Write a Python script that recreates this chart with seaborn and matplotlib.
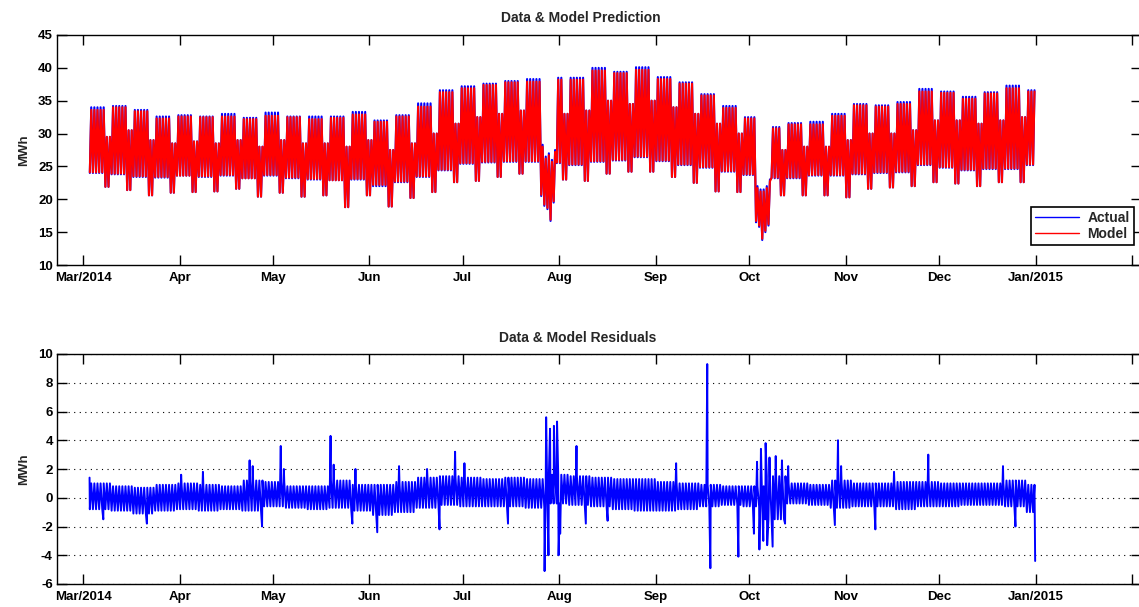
import numpy as np
import pandas as pd
import matplotlib
matplotlib.use('Agg')
import matplotlib.pyplot as plt
import matplotlib.dates as mdates
import seaborn as sns

# ---- weekly readings (weeks start Monday 2014-03-03) ----
peak_wd = [34.0, 34.2, 33.6, 32.6, 32.8, 32.6, 33.0, 32.4, 33.2, 32.6, 32.6, 32.6, 33.3, 32.0, 32.8,
           34.6, 36.6, 37.2, 37.6, 38.0, 38.3, 38.5, 38.5, 40.0, 39.4, 40.1, 38.6, 37.8, 36.0, 34.2,
           32.5, 31.0, 31.6, 31.8, 33.0, 34.5, 34.3, 34.8, 36.8, 36.4, 35.6, 36.3, 37.3, 36.6]
peak_we = [29.5, 30.5, 29.0, 28.5, 28.8, 28.5, 29.0, 28.0, 29.0, 28.5, 28.5, 28.0, 29.0, 27.5, 28.5,
           30.0, 31.5, 32.5, 33.0, 33.5, 33.5, 33.0, 33.5, 35.0, 34.5, 35.0, 34.0, 33.0, 31.5, 30.0,
           28.5, 27.5, 28.0, 28.0, 29.0, 30.0, 30.0, 30.5, 32.0, 32.0, 31.5, 32.0, 32.5, 32.0]
trough_wd = [24.0, 23.8, 23.4, 23.3, 23.6, 23.4, 23.6, 23.2, 23.6, 23.2, 23.0, 22.9, 23.0, 22.0, 22.6,
             23.4, 24.4, 25.4, 25.6, 25.7, 25.7, 25.5, 25.2, 25.7, 25.9, 26.4, 25.8, 25.2, 24.8, 24.2,
             23.7, 23.2, 23.2, 23.6, 23.6, 23.8, 24.0, 24.1, 25.2, 24.8, 24.4, 24.6, 24.6, 25.2]
trough_we = [21.9, 21.4, 20.6, 21.0, 21.1, 21.2, 21.6, 20.4, 21.0, 20.4, 20.6, 18.8, 20.6, 18.9, 20.2,
             21.1, 22.6, 22.8, 23.4, 23.9, 23.5, 23.0, 22.8, 23.9, 24.2, 24.2, 23.4, 22.5, 21.2, 21.1,
             21.7, 20.6, 20.6, 20.6, 20.3, 21.6, 21.8, 22.0, 22.6, 22.4, 22.0, 22.6, 22.6, 23.4]
model_peak_wd = [33.6, 34.0, 33.4, 32.3, 32.6, 32.5, 32.6, 32.2, 32.7, 32.5, 32.2, 32.4, 32.9, 31.8, 32.6,
                 34.1, 36.3, 36.9, 37.4, 37.8, 37.9, 38.2, 38.2, 39.6, 39.2, 39.7, 38.3, 37.6, 35.8, 33.9,
                 32.3, 30.8, 31.4, 31.4, 32.7, 34.3, 34.1, 34.5, 36.4, 36.2, 35.3, 36.1, 36.9, 36.4]
model_trough_wd = [24.1, 23.9, 23.5, 23.4, 23.6, 23.5, 23.7, 23.2, 23.7, 23.3, 23.1, 22.9, 23.1, 22.2, 22.7,
                   23.5, 24.5, 25.5, 25.7, 25.8, 25.8, 25.6, 25.3, 25.8, 26.0, 26.5, 25.9, 25.3, 24.9, 24.3,
                   23.8, 23.3, 23.3, 23.7, 23.7, 23.9, 24.1, 24.2, 25.3, 24.9, 24.5, 24.7, 24.7, 25.3]

# days that fall out of the weekly pattern (peak, trough)
odd_days = ['2014-07-26', '2014-07-27', '2014-07-28', '2014-07-29', '2014-07-30',
            '2014-10-03', '2014-10-04', '2014-10-05', '2014-10-06', '2014-10-07']
odd_peak = [28.3, 26.5, 27.0, 26.0, 27.5, 22.0, 21.5, 21.5, 22.0, 23.0]
odd_trough = [20.5, 19.0, 18.5, 16.7, 19.5, 16.5, 15.8, 13.8, 15.0, 16.0]

# residual band per week
res_hi = [1.0, 0.8, 0.7, 0.9, 1.0, 0.9, 0.8, 1.2, 1.1, 0.8, 0.8, 1.2, 0.9,
          0.9, 1.1, 1.4, 1.5, 1.4, 1.3, 1.4, 1.3, 1.6, 1.5, 1.4, 1.3, 1.3, 1.1, 1.0, 0.9, 0.8, 0.8,
          1.5, 1.0, 0.9, 1.2, 1.0, 1.0, 1.1, 1.1, 1.0, 1.0, 1.0, 1.2, 0.9]
res_lo = [-0.8, -0.9, -1.1, -0.9, -0.8, -0.9, -0.8, -0.9, -0.6, -0.7, -0.8, -0.7, -0.9,
          -1.2, -1.0, -0.7, -0.5, -0.6, -0.6, -0.6, -0.7, -0.4, -0.5, -0.6, -0.8, -0.9, -0.9, -0.8, -0.6, -0.5, -0.6,
          -1.5, -0.4, -0.5, -0.7, -0.6, -0.6, -0.8, -0.6, -0.6, -0.5, -0.5, -0.6, -1.0]
spike_time = ['2014-03-03 02:00', '2014-03-07 12:00', '2014-03-21 12:00', '2014-04-01 12:00',
              '2014-04-08 12:00', '2014-04-23 12:00', '2014-04-24 12:00', '2014-04-27 12:00',
              '2014-05-03 12:00', '2014-05-04 12:00', '2014-05-19 12:00', '2014-05-20 12:00',
              '2014-05-26 12:00', '2014-05-27 12:00', '2014-06-03 12:00', '2014-06-10 12:00',
              '2014-06-19 12:00', '2014-06-23 12:00', '2014-06-28 12:00', '2014-07-01 12:00',
              '2014-07-15 12:00', '2014-07-27 06:00', '2014-07-27 18:00', '2014-07-28 12:00',
              '2014-07-29 00:00', '2014-07-30 06:00', '2014-07-31 06:00', '2014-07-31 18:00',
              '2014-08-01 06:00', '2014-08-06 12:00', '2014-08-09 12:00', '2014-08-16 12:00',
              '2014-09-07 12:00', '2014-09-17 12:00', '2014-09-18 12:00', '2014-09-27 12:00',
              '2014-10-02 12:00', '2014-10-03 12:00', '2014-10-04 06:00', '2014-10-04 18:00',
              '2014-10-05 12:00', '2014-10-06 06:00', '2014-10-06 18:00', '2014-10-07 12:00',
              '2014-10-08 12:00', '2014-10-09 12:00', '2014-10-11 12:00', '2014-10-12 12:00',
              '2014-10-13 12:00', '2014-10-28 12:00', '2014-10-29 12:00', '2014-10-30 12:00',
              '2014-11-10 12:00', '2014-11-16 12:00', '2014-11-27 12:00', '2014-12-21 12:00',
              '2014-12-25 12:00', '2014-12-31 20:00']
spike_val = [1.4, -1.5, -1.8, 1.6, 1.8, 2.6, 2.2, -2.0, 3.6, 2.0, 4.3, 2.3, -1.8, 2.0, -2.4, 2.2,
             2.0, -2.2, 3.2, 2.4, -1.8, -5.1, 5.6, -4.0, 4.8, 5.0, 5.3, -4.0, -2.5, 3.6, -1.8, -1.6,
             2.4, 9.3, -4.9, -4.1, -2.5, 2.5, -3.6, 3.4, -3.0, 3.8, -3.3, 2.8, -3.4, 2.9, 2.6, -1.8,
             2.2, -1.9, 4.0, 2.2, -2.2, 1.8, 3.0, 2.2, -2.0, -4.4]

month_ticks = pd.date_range('2014-03-01', '2015-02-01', freq='MS')
month_labels = ['Mar/2014', 'Apr', 'May', 'Jun', 'Jul', 'Aug', 'Sep', 'Oct', 'Nov', 'Dec', 'Jan/2015', '']

# ---- build the series ----
days = pd.date_range('2014-03-03', '2014-12-31', freq='D')
rows, res_rows = [], []
odd = {pd.Timestamp(d): (p, t) for d, p, t in zip(odd_days, odd_peak, odd_trough)}
for d in days:
    w = (d - days[0]).days // 7
    we = d.dayofweek >= 5
    a_pk = peak_we[w] if we else peak_wd[w]
    a_tr = trough_we[w] if we else trough_wd[w]
    m_pk = peak_we[w] if we else model_peak_wd[w]
    m_tr = trough_we[w] if we else model_trough_wd[w]
    if d in odd:
        a_pk, a_tr = odd[d]
        m_pk, m_tr = odd[d][0] - 0.3, odd[d][1] + 0.2
    t_lo, t_hi = d + pd.Timedelta(hours=4), d + pd.Timedelta(hours=15)
    rows += [(t_lo, a_tr, 'Actual'), (t_hi, a_pk, 'Actual'),
             (t_lo, m_tr, 'Model'), (t_hi, m_pk, 'Model')]
    res_rows += [(t_lo, res_lo[w]), (t_hi, res_hi[w])]

pred = pd.DataFrame(rows, columns=['time', 'MWh', 'series'])
res = pd.DataFrame(res_rows + list(zip(pd.to_datetime(spike_time), spike_val)),
                   columns=['time', 'MWh']).sort_values('time')

# ---- figure ----
sns.set_style('ticks')
plt.rcParams['font.family'] = ['Liberation Sans', 'DejaVu Sans']
plt.rcParams['font.weight'] = 'bold'
plt.rcParams['axes.unicode_minus'] = False

fig = plt.figure(figsize=(11.39, 6.07), dpi=100)
W, H = 1139, 607
left, right = 57, 1141
ax1 = fig.add_axes([left / W, (H - 265) / H, (right - left) / W, 230 / H])
ax2 = fig.add_axes([left / W, (H - 584) / H, (right - left) / W, 230 / H])

sns.lineplot(data=pred, x='time', y='MWh', hue='series', hue_order=['Actual', 'Model'],
             palette={'Actual': 'blue', 'Model': 'red'}, estimator=None, lw=1.5, ax=ax1)
sns.lineplot(data=res, x='time', y='MWh', color='blue', estimator=None, sort=False, lw=1.4, ax=ax2)

x0 = mdates.date2num(pd.Timestamp('2014-02-20 15:00'))
x1 = mdates.date2num(pd.Timestamp('2015-02-03 20:00'))
for ax in (ax1, ax2):
    ax.set_xlim(x0, x1)
    ax.set_xticks(mdates.date2num(month_ticks))
    ax.set_xticklabels(month_labels)
    ax.tick_params(direction='in', length=7, width=1, top=True, right=True,
                   labelsize=9.5, pad=5, colors='black')
    ax.tick_params(axis='y', pad=3)
    for s in ax.spines.values():
        s.set_linewidth(1.0)
        s.set_color('black')
    ax.set_xlabel('')
    ax.set_ylabel('MWh', fontsize=9.5, fontweight='bold', labelpad=6)
    for lab in ax.get_xticklabels() + ax.get_yticklabels():
        lab.set_fontweight('bold')

ax1.set_ylim(10, 45)
ax1.set_yticks(np.arange(10, 46, 5))
ax1.set_title('Data & Model Prediction', fontsize=10, fontweight='bold', x=0.4834, pad=9)
h, l = ax1.get_legend_handles_labels()
leg = ax1.legend(h, l, loc='upper right', bbox_to_anchor=(0.9935, 0.252), borderaxespad=0,
                 fancybox=False, edgecolor='black', framealpha=1, fontsize=10,
                 handlelength=3.2, handletextpad=0.6, borderpad=0.3, labelspacing=0.15)
leg.get_frame().set_linewidth(1.2)
for line in leg.get_lines():
    line.set_linewidth(1.0)
for t in leg.get_texts():
    t.set_fontweight('bold')

ax2.set_ylim(-6, 10)
ax2.set_yticks(np.arange(-6, 11, 2))
ax2.grid(axis='y', color='black', linestyle=(0, (1, 4)), linewidth=0.8)
ax2.set_title('Data & Model Residuals', fontsize=10, fontweight='bold', x=0.48, pad=9)

fig.savefig('out.png', dpi=100)
